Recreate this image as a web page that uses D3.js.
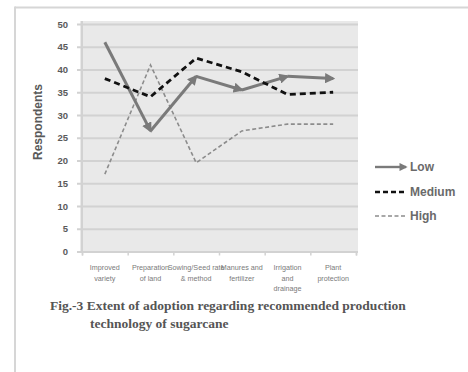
<!DOCTYPE html>
<html>
<head>
<meta charset="utf-8">
<script src="https://cdn.jsdelivr.net/npm/d3@7"></script>
<style>
  html, body { margin: 0; padding: 0; background: #fff; }
  svg { display: block; }
</style>
</head>
<body>
<svg id="chart" width="468" height="372"></svg>
<script>
// Practices of sugarcane production technology (line breaks mark label wrapping)
const categories = [
  "Improved\nvariety",
  "Preparation\nof land",
  "Sowing/Seed rate\n& method",
  "Manures and\nfertilizer",
  "Irrigation\nand\ndrainage",
  "Plant\nprotection"
];

// Respondents per adoption group
const lowValues    = [46, 26.5, 38.5, 35.5, 38.5, 38];
const mediumValues = [38, 34, 42.5, 39.5, 34.5, 35];
const highValues   = [17, 41, 19.5, 26.5, 28, 28];

const seriesNames = ["Low", "Medium", "High"];
const yTicks = [0, 5, 10, 15, 20, 25, 30, 35, 40, 45, 50];

const captionLines = [
  "Fig.-3 Extent of adoption regarding recommended production",
  "technology of sugarcane"
];

const svg = d3.select("#chart");

// page frame
svg.append("line").attr("x1", 15).attr("x2", 468).attr("y1", 7.5).attr("y2", 7.5)
  .attr("stroke", "#d6d6d6").attr("stroke-width", 2);
svg.append("line").attr("x1", 15).attr("x2", 15).attr("y1", 6.5).attr("y2", 372)
  .attr("stroke", "#d6d6d6").attr("stroke-width", 2);

const plot = { left: 82, right: 356, top: 24, bottom: 251.5 };

const x = d3.scaleBand().domain(categories).range([plot.left, plot.right]);
const y = d3.scaleLinear().domain([0, 50]).range([plot.bottom, plot.top]);
const xEdge = d3.scaleLinear().domain([0, categories.length]).range([plot.left, plot.right]);

// plot background
svg.append("rect")
  .attr("x", 80).attr("y", 21)
  .attr("width", 278).attr("height", 232)
  .attr("fill", "#e9e9e9");

// horizontal gridlines and value labels
const yAxis = svg.append("g")
  .attr("transform", "translate(77,0)")
  .call(d3.axisLeft(y).tickValues(yTicks).tickSize(-(358 - 77)).tickPadding(9).tickFormat(d3.format("d")));
yAxis.select(".domain").remove();
yAxis.selectAll(".tick line").attr("stroke", "#d2d2d2").attr("stroke-width", 2);
yAxis.selectAll(".tick text")
  .attr("fill", "#5a5a5a")
  .style("font-family", "'Liberation Sans', Arial, sans-serif")
  .style("font-size", "9.5px")
  .style("font-weight", "bold");

// vertical axis line
svg.append("line")
  .attr("x1", plot.left).attr("x2", plot.left)
  .attr("y1", 21).attr("y2", plot.bottom)
  .attr("stroke", "#d2d2d2").attr("stroke-width", 2);

// category axis with boundary ticks
const xAxis = svg.append("g")
  .attr("transform", `translate(0,${plot.bottom})`)
  .call(d3.axisBottom(xEdge).tickValues(d3.range(categories.length + 1)).tickSize(4).tickFormat(""));
xAxis.select(".domain").attr("stroke", "#d2d2d2").attr("stroke-width", 1.5);
xAxis.selectAll(".tick line").attr("stroke", "#d2d2d2").attr("stroke-width", 1.5);

// category labels
const catLabels = svg.append("g")
  .style("font-family", "'Liberation Sans', Arial, sans-serif")
  .style("font-size", "7.2px")
  .attr("fill", "#7a7a7a")
  .attr("text-anchor", "middle");
categories.forEach(c => {
  const t = catLabels.append("text").attr("x", x(c) + x.bandwidth() / 2).attr("y", 270);
  c.split("\n").forEach((line, i) => {
    t.append("tspan").attr("x", x(c) + x.bandwidth() / 2).attr("dy", i === 0 ? 0 : 10.5).text(line);
  });
});

// y-axis title
svg.append("text")
  .attr("transform", "translate(42,122) rotate(-90)")
  .attr("text-anchor", "middle")
  .attr("fill", "#595959")
  .style("font-family", "'Liberation Sans', Arial, sans-serif")
  .style("font-size", "12px")
  .style("font-weight", "bold")
  .text("Respondents");

// arrowhead used by the Low series
const defs = svg.append("defs");
defs.append("marker")
  .attr("id", "arrowLow")
  .attr("viewBox", "0 0 10 10")
  .attr("refX", 8).attr("refY", 5)
  .attr("markerWidth", 3.4).attr("markerHeight", 3.4)
  .attr("markerUnits", "strokeWidth")
  .attr("orient", "auto")
  .append("path").attr("d", "M0,0 L10,5 L0,10 Z").attr("fill", "#7a7a7a");

const cx = c => x(c) + x.bandwidth() / 2;
const line = d3.line().x(d => cx(d.c)).y(d => y(d.v));
const pts = vals => categories.map((c, i) => ({ c, v: vals[i] }));

// High: thin grey dashed
svg.append("path")
  .datum(pts(highValues))
  .attr("d", line)
  .attr("fill", "none")
  .attr("stroke", "#8c8c8c")
  .attr("stroke-width", 1.6)
  .attr("stroke-dasharray", "4,2.5");

// Low: thick grey line, each segment ending in an arrowhead
const lowPts = pts(lowValues);
d3.pairs(lowPts).forEach(seg => {
  svg.append("path")
    .datum(seg)
    .attr("d", line)
    .attr("fill", "none")
    .attr("stroke", "#7a7a7a")
    .attr("stroke-width", 3)
    .attr("marker-end", "url(#arrowLow)");
});

// Medium: thick black dashed
svg.append("path")
  .datum(pts(mediumValues))
  .attr("d", line)
  .attr("fill", "none")
  .attr("stroke", "#111")
  .attr("stroke-width", 2.8)
  .attr("stroke-dasharray", "6,4");

// legend
const legend = svg.append("g")
  .style("font-family", "'Liberation Sans', Arial, sans-serif")
  .style("font-size", "12px")
  .style("font-weight", "bold");
const legendY = [167, 192, 216];
const legendStyles = [
  { stroke: "#7a7a7a", width: 2.4, dash: null, arrow: true },
  { stroke: "#111", width: 2.6, dash: "5,3", arrow: false },
  { stroke: "#8c8c8c", width: 1.6, dash: "4,2.5", arrow: false }
];
seriesNames.forEach((name, i) => {
  const s = legendStyles[i];
  const l = legend.append("line")
    .attr("x1", 375).attr("x2", 406)
    .attr("y1", legendY[i]).attr("y2", legendY[i])
    .attr("stroke", s.stroke).attr("stroke-width", s.width);
  if (s.dash) l.attr("stroke-dasharray", s.dash);
  if (s.arrow) l.attr("marker-end", "url(#arrowLow)");
  legend.append("text")
    .attr("x", 410).attr("y", legendY[i]).attr("dy", "0.35em")
    .attr("fill", "#6a6a6a")
    .text(name);
});

// caption
const caption = svg.append("text")
  .attr("fill", "#555")
  .style("font-family", "'Liberation Serif', 'Times New Roman', serif")
  .style("font-size", "13.5px")
  .style("font-weight", "bold");
caption.append("tspan").attr("x", 50).attr("y", 310).text(captionLines[0]);
caption.append("tspan").attr("x", 90).attr("y", 328).text(captionLines[1]);
</script>
</body>
</html>
